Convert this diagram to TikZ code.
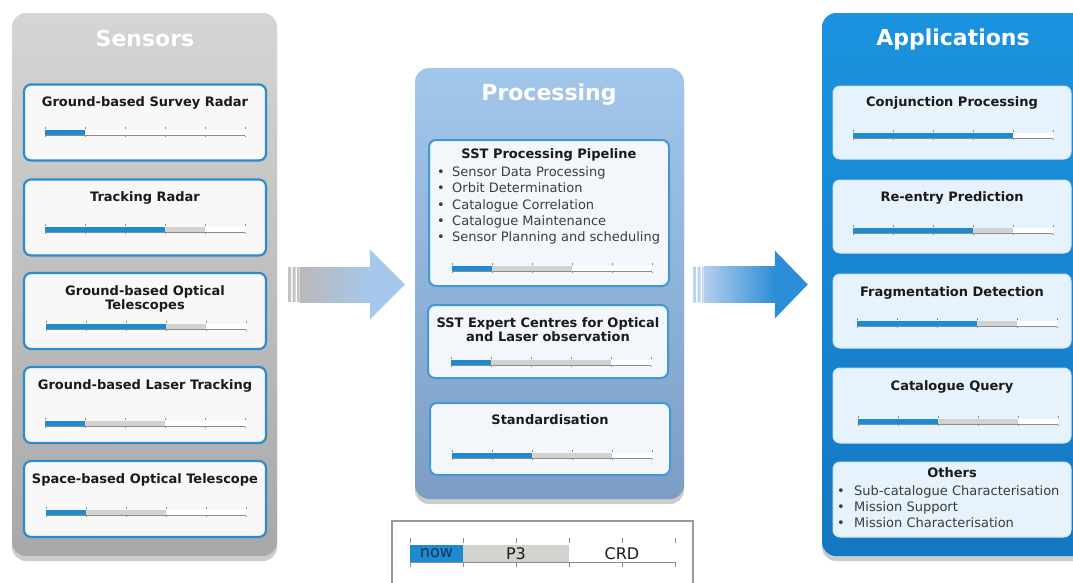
\documentclass[tikz,border=0pt]{standalone}
\usepackage{fontspec}
\setmainfont{DejaVu Sans}
\usetikzlibrary{shapes,arrows,positioning,calc,backgrounds,fit,shadows}

\definecolor{ink}{HTML}{1A1A1A}
\definecolor{itemgrey}{HTML}{3C3C3C}
\definecolor{nowink}{HTML}{1B3550}
\definecolor{sensTop}{HTML}{D5D5D3}
\definecolor{sensBot}{HTML}{A8A8A8}
\definecolor{procTop}{HTML}{A3C6EB}
\definecolor{procBot}{HTML}{7C9EC6}
\definecolor{appTop}{HTML}{1B93E0}
\definecolor{appBot}{HTML}{1577C2}
\definecolor{sborder}{HTML}{2A8CCF}
\definecolor{sfill}{HTML}{F8F8F8}
\definecolor{pborder}{HTML}{3F99D8}
\definecolor{pfill}{HTML}{F3F7FB}
\definecolor{aborder}{HTML}{CFE5F7}
\definecolor{afill}{HTML}{E6F2FC}
\definecolor{barblue}{HTML}{1E8AD0}
\definecolor{bargrey}{HTML}{D2D2CE}
\definecolor{tickc}{HTML}{8C8C8C}
\definecolor{legframe}{HTML}{9A9A9A}
\definecolor{agrey}{HTML}{B9B9B9}
\definecolor{alblue}{HTML}{A5C8EB}
\definecolor{bleft}{HTML}{B3CFEC}
\definecolor{bright}{HTML}{2E8DD5}
\definecolor{bhead}{HTML}{2C8ED7}
\definecolor{stripA}{HTML}{C2C2C2}
\definecolor{stripB}{HTML}{BCD3EE}

\begin{document}
\begin{tikzpicture}[x=1pt,y=-1pt]
  \tikzstyle{panel}=[rectangle, rounded corners=14pt, drop shadow={shadow xshift=0pt, shadow yshift=-5pt, opacity=0.4}]
  \tikzstyle{ptitle}=[font=\bfseries\fontsize{22}{26}\selectfont, text=white]
  \tikzstyle{box}=[rectangle, rounded corners=7pt, minimum width=240pt]
  \tikzstyle{sbox}=[box, draw=sborder, line width=2.2pt, fill=sfill, minimum width=242pt, minimum height=76pt]
  \tikzstyle{pbox}=[box, draw=pborder, line width=2pt, fill=pfill]
  \tikzstyle{abox}=[box, draw=aborder, line width=1pt, fill=afill, minimum width=238pt]
  \tikzstyle{ttl}=[font=\bfseries\fontsize{13}{14}\selectfont, text=ink, align=center, inner sep=0pt]
  \tikzstyle{item}=[font=\fontsize{13}{16}\selectfont, text=itemgrey, anchor=west, inner sep=0pt, text height=9.5pt, text depth=2.5pt]
  \tikzstyle{seg}=[rectangle, inner sep=0pt, minimum height=17pt, font=\fontsize{16}{18}\selectfont]

  \useasboundingbox (0,0) rectangle (1073,582);
  \clip (0,0) rectangle (1073,582);

  % Panels
  \node[panel, top color=sensTop, bottom color=sensBot, minimum width=265pt, minimum height=543pt] (sensors) at (144.5,284.5) {};
  \node[panel, top color=procTop, bottom color=procBot, minimum width=269pt, minimum height=431pt] (processing) at (549.5,283.5) {};
  \node[panel, top color=appTop, bottom color=appBot, minimum width=270pt, minimum height=543pt] (applications) at (957,284.5) {};
  \node[ptitle] (sensorsT) at (145,38) {Sensors};
  \node[ptitle] (processingT) at (549,95) {Processing};
  \node[ptitle] (applicationsT) at (953,39) {Applications};

  % Sensors
  \node[sbox] (svr) at (145,122.5) {};
  \node[ttl] (svrT) at (145,103) {Ground-based Survey Radar};
  \node[sbox] (trk) at (145,217.5) {};
  \node[ttl] (trkT) at (145,198) {Tracking Radar};
  \node[sbox] (opt) at (145,311) {};
  \node[ttl] (optT) at (145,299) {Ground-based Optical\\Telescopes};
  \node[sbox] (las) at (145,405) {};
  \node[ttl] (lasT) at (145,386) {Ground-based Laser Tracking};
  \node[sbox] (spc) at (145,499) {};
  \node[ttl] (spcT) at (145,480) {Space-based Optical Telescope};

  % Processing
  \node[pbox, minimum height=146pt] (ppl) at (549,213) {};
  \node[ttl] (pplT) at (549,155) {SST Processing Pipeline};
  \foreach \t [count=\i] in {Sensor Data Processing, Orbit Determination, Catalogue Correlation, Catalogue Maintenance, Sensor Planning and scheduling}
    \node[item] (ppl\i) at (437,156.7+16.3*\i) {\makebox[15pt][l]{\textbullet}\t};
  \node[pbox, minimum height=73pt] (exp) at (548,341.5) {};
  \node[ttl] (expT) at (548,330) {SST Expert Centres for Optical\\and Laser observation};
  \node[pbox, minimum height=72pt] (std) at (550,439) {};
  \node[ttl] (stdT) at (550,420) {Standardisation};

  % Applications
  \node[abox, minimum height=73pt] (cnj) at (952,122.5) {};
  \node[ttl] (cnjT) at (952,103) {Conjunction Processing};
  \node[abox, minimum height=73pt] (ree) at (952,216.5) {};
  \node[ttl] (reeT) at (952,198) {Re-entry Prediction};
  \node[abox, minimum height=74pt] (frg) at (952,311) {};
  \node[ttl] (frgT) at (952,293) {Fragmentation Detection};
  \node[abox, minimum height=75pt] (cat) at (952,405.5) {};
  \node[ttl] (catT) at (952,387) {Catalogue Query};
  \node[abox, minimum height=75pt] (oth) at (952,499.5) {};
  \node[ttl] (othT) at (952,473) {Others};
  \foreach \t [count=\i] in {Sub-catalogue Characterisation, Mission Support, Mission Characterisation}
    \node[item] (oth\i) at (837,476+16*\i) {\makebox[17pt][l]{\textbullet}\t};

  % Progress bars: x / y / blue segments / grey segments
  \foreach \bx/\by/\nb/\ng in {45/132/1/0, 45/229/3/1, 46/326/3/1, 45/423/1/2, 46/512/1/2,
                                452/268/1/2, 451/362/1/3, 452/455/2/2,
                                853/135/4/0, 853/230/3/1, 857/323/3/1, 858/421/2/2} {
    \fill[white] (\bx,\by-2.5) rectangle ++(200,5);
    \fill[barblue] (\bx,\by-2.5) rectangle ++(\nb*40,5);
    \fill[bargrey] (\bx+\nb*40,\by-2.5) rectangle ++(\ng*40,5);
    \draw[tickc, line width=1.1pt] (\bx,\by+3.5) -- ++(200,0);
    \foreach \k in {0,...,5}
      \draw[tickc, line width=0.6pt] (\bx+\k*40,\by-5) -- ++(0,2) (\bx+\k*40,\by+3.5) -- ++(0,1.5);
  }

  % Flow arrows
  \coordinate (a1s) at ($(sensors.east)+(11,0)$);
  \coordinate (a1e) at ($(processing.west |- a1s)+(-10,0)$);
  \fill[stripA] ($(a1s)+(0,-17.5)$) rectangle ++(3,35) ($(a1s)+(4.5,-17.5)$) rectangle ++(3,35) ($(a1s)+(9,-17.5)$) rectangle ++(2.5,35);
  \shade[left color=agrey, right color=alblue] ($(a1s)+(12,-17.5)$) rectangle ($(a1e)+(-35,17.5)$);
  \fill[alblue] ($(a1e)+(-35,-35)$) -- (a1e) -- ($(a1e)+(-35,35)$) -- cycle;

  \coordinate (a2s) at ($(processing.east |- a1s)+(9,0)$);
  \coordinate (a2e) at ($(applications.west)+(-14,0)$);
  \fill[stripB] ($(a2s)+(0,-18)$) rectangle ++(3,36) ($(a2s)+(4.5,-18)$) rectangle ++(3,36) ($(a2s)+(9,-18)$) rectangle ++(1.5,36);
  \shade[left color=bleft, right color=bright] ($(a2s)+(11,-18)$) rectangle ($(a2e)+(-33,18)$);
  \fill[bhead] ($(a2e)+(-33,-34)$) -- (a2e) -- ($(a2e)+(-33,34)$) -- cycle;

  % Legend
  \node[draw=legframe, line width=1.2pt, fill=white, minimum width=301pt, minimum height=74pt] (legend) at (542.5,558) {};
  \node[seg, fill=barblue, text=nowink, minimum width=53pt] (now) at (436.5,553.5) {now};
  \node[seg, fill=bargrey, text=ink, minimum width=106pt] (p3) at (516,553.5) {P3};
  \node[seg, fill=white, text=ink, minimum width=106pt] (crd) at (622,553.5) {CRD};
  \draw[tickc, line width=1.2pt] (now.south west) -- (crd.south east);
  \foreach \k in {0,...,5}
    \draw[tickc, line width=0.8pt] (410+53*\k,538) -- ++(0,5) (410+53*\k,562) -- ++(0,5);
\end{tikzpicture}
\end{document}
